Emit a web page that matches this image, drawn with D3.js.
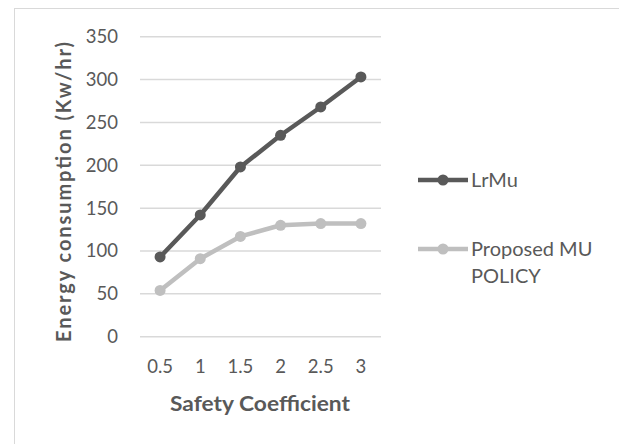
<!DOCTYPE html>
<html>
<head>
<meta charset="utf-8">
<script src="https://cdn.jsdelivr.net/npm/d3@7"></script>
<style>
  html, body { margin: 0; padding: 0; background: #ffffff; }
  svg { display: block; }
  text { font-family: Lato, "Liberation Sans", sans-serif; fill: #595959; }
</style>
</head>
<body>
<svg id="chart" width="619" height="444"></svg>
<script>
// Safety coefficient categories and energy consumption per policy
const categories = ["0.5", "1", "1.5", "2", "2.5", "3"];
const lrMu = [93, 142, 198, 235, 268, 303];
const proposedMu = [54, 91, 117, 130, 132, 132];
const yTicks = [0, 50, 100, 150, 200, 250, 300, 350];
const seriesNames = ["LrMu", "Proposed MU POLICY"];

const series = [
  { name: seriesNames[0], values: lrMu, color: "#595959" },
  { name: seriesNames[1], values: proposedMu, color: "#bfbfbf" }
];

const svg = d3.select("#chart");

// chart area frame
svg.append("rect")
  .attr("x", 14.5).attr("y", 8.5)
  .attr("width", 700).attr("height", 500)
  .attr("fill", "none").attr("stroke", "#d9d9d9").attr("stroke-width", 1);

const plot = { left: 140, right: 381, top: 36.7, bottom: 336.7 };

const x = d3.scaleBand().domain(categories).range([plot.left, plot.right]);
const y = d3.scaleLinear().domain([0, 350]).range([plot.bottom, plot.top]);

// horizontal gridlines
svg.append("g").selectAll("line").data(yTicks).join("line")
  .attr("x1", plot.left).attr("x2", plot.right)
  .attr("y1", d => y(d)).attr("y2", d => y(d))
  .attr("stroke", "#d9d9d9").attr("stroke-width", 1.5);

// y axis labels
const yAxis = svg.append("g")
  .attr("transform", `translate(${plot.left - 22},0)`)
  .call(d3.axisLeft(y).tickValues(yTicks).tickSize(0).tickPadding(0));
yAxis.select(".domain").remove();
yAxis.selectAll("text").attr("font-size", 18.5).attr("font-family", "Lato, sans-serif").attr("fill", "#595959");

// x axis labels
const xAxis = svg.append("g")
  .attr("transform", `translate(0,${plot.bottom + 23})`)
  .call(d3.axisBottom(x).tickSize(0).tickPadding(0));
xAxis.select(".domain").remove();
xAxis.selectAll("text").attr("font-size", 18.5).attr("font-family", "Lato, sans-serif").attr("fill", "#595959");

// axis titles
svg.append("text")
  .attr("x", 260).attr("y", 411)
  .attr("text-anchor", "middle")
  .attr("font-size", 21).attr("font-weight", "bold")
  .attr("textLength", 180).attr("lengthAdjust", "spacingAndGlyphs")
  .text("Safety Coefficient");

svg.append("text")
  .attr("transform", "translate(71,192) rotate(-90)")
  .attr("text-anchor", "middle")
  .attr("font-size", 20).attr("font-weight", "bold")
  .attr("textLength", 300).attr("lengthAdjust", "spacing")
  .text("Energy consumption (Kw/hr)");

// lines and markers
const line = d3.line()
  .x((d, i) => x(categories[i]) + x.bandwidth() / 2)
  .y(d => y(d));

series.forEach(s => {
  svg.append("path")
    .datum(s.values)
    .attr("d", line)
    .attr("fill", "none")
    .attr("stroke", s.color)
    .attr("stroke-width", 4.5)
    .attr("stroke-linejoin", "round");
  svg.append("g").selectAll("circle").data(s.values).join("circle")
    .attr("cx", (d, i) => x(categories[i]) + x.bandwidth() / 2)
    .attr("cy", d => y(d))
    .attr("r", 5.5)
    .attr("fill", s.color);
});

// legend
const legendY = [180, 249];
series.forEach((s, i) => {
  const g = svg.append("g").attr("transform", `translate(418,${legendY[i]})`);
  g.append("line").attr("x1", 0).attr("x2", 50).attr("y1", 0).attr("y2", 0)
    .attr("stroke", s.color).attr("stroke-width", 4.5);
  g.append("circle").attr("cx", 25).attr("cy", 0).attr("r", 5.5).attr("fill", s.color);
  const t = g.append("text").attr("x", 53).attr("y", 7).attr("font-size", 20);
  if (i === 0) {
    t.text(s.name);
  } else {
    t.append("tspan").attr("x", 53).text("Proposed MU");
    t.append("tspan").attr("x", 53).attr("dy", 27).text("POLICY");
  }
});
</script>
</body>
</html>
